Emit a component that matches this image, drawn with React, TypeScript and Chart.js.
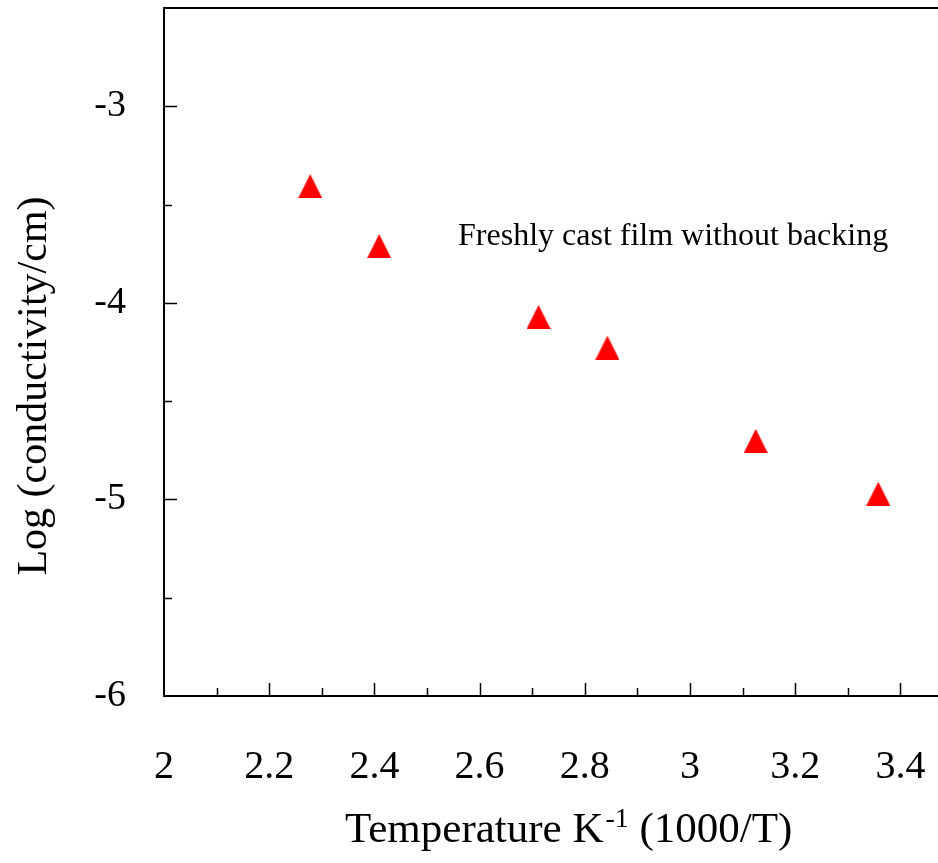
import { useEffect, useRef } from 'react';
import { Chart, registerables } from 'chart.js';
Chart.register(...registerables);

const X_VALUES = [2.278, 2.409, 2.712, 2.843, 3.125, 3.358];
const Y_VALUES = [-3.406, -3.711, -4.071, -4.228, -4.702, -4.971];
const X_TICKS = [2, 2.2, 2.4, 2.6, 2.8, 3, 3.2, 3.4];
const X_MINOR = [2.1, 2.3, 2.5, 2.7, 2.9, 3.1, 3.3];
const Y_TICKS = [-6, -5, -4, -3];
const Y_MINOR = [-5.5, -4.5, -3.5];
const X_MIN = 2;
const X_MAX = 3.4715;
const Y_MIN = -6;
const Y_MAX = -2.5;
const ANNOTATION = 'Freshly cast film without backing';
const ANN_X = 2.559;
const ANN_Y = -3.705;
const X_TITLE_MAIN = 'Temperature K';
const X_TITLE_SUP = '-1';
const X_TITLE_END = ' (1000/T)';
const Y_TITLE = 'Log (conductivity/cm)';

const FONT = '"Liberation Serif", "Times New Roman", serif';

function makeTriangle(): HTMLCanvasElement {
  const c = document.createElement('canvas');
  c.width = 24;
  c.height = 24;
  const g = c.getContext('2d')!;
  g.fillStyle = '#ff0000';
  g.beginPath();
  g.moveTo(0, 24);
  g.lineTo(12, 0);
  g.lineTo(24, 24);
  g.closePath();
  g.fill();
  return c;
}

const decor = {
  id: 'decor',
  afterDraw(chart: any) {
    const { ctx, chartArea } = chart;
    const xs = chart.scales.x;
    const ys = chart.scales.y;
    ctx.save();
    ctx.strokeStyle = '#000';
    // top frame line
    ctx.lineWidth = 2;
    ctx.beginPath();
    ctx.moveTo(chartArea.left - 1, chartArea.top);
    ctx.lineTo(chartArea.right, chartArea.top);
    ctx.stroke();
    // inward ticks
    ctx.lineWidth = 1.5;
    const b = chartArea.bottom;
    const l = chartArea.left;
    X_TICKS.forEach((v) => {
      if (v === X_MIN) return;
      const px = Math.round(xs.getPixelForValue(v)) + 0.5;
      ctx.beginPath();
      ctx.moveTo(px, b);
      ctx.lineTo(px, b - 13);
      ctx.stroke();
    });
    X_MINOR.forEach((v) => {
      const px = Math.round(xs.getPixelForValue(v)) + 0.5;
      ctx.beginPath();
      ctx.moveTo(px, b);
      ctx.lineTo(px, b - 8);
      ctx.stroke();
    });
    Y_TICKS.forEach((v) => {
      if (v === Y_MIN) return;
      const py = Math.round(ys.getPixelForValue(v)) + 0.5;
      ctx.beginPath();
      ctx.moveTo(l, py);
      ctx.lineTo(l + 13, py);
      ctx.stroke();
    });
    Y_MINOR.forEach((v) => {
      const py = Math.round(ys.getPixelForValue(v)) + 0.5;
      ctx.beginPath();
      ctx.moveTo(l, py);
      ctx.lineTo(l + 8, py);
      ctx.stroke();
    });
    ctx.fillStyle = '#000';
    // annotation
    ctx.font = `32px ${FONT}`;
    ctx.textAlign = 'left';
    ctx.textBaseline = 'alphabetic';
    ctx.fillText(ANNOTATION, xs.getPixelForValue(ANN_X), ys.getPixelForValue(ANN_Y));
    // x title with superscript
    const mainFont = `43px ${FONT}`;
    const supFont = `28px ${FONT}`;
    const baseY = 842;
    let x0 = 345;
    ctx.font = mainFont;
    ctx.fillText(X_TITLE_MAIN, x0, baseY);
    x0 += ctx.measureText(X_TITLE_MAIN).width + 2;
    ctx.font = supFont;
    ctx.fillText(X_TITLE_SUP, x0, baseY - 15);
    x0 += ctx.measureText(X_TITLE_SUP).width;
    ctx.font = mainFont;
    ctx.fillText(X_TITLE_END, x0, baseY);
    // y title
    ctx.translate(46, 386);
    ctx.rotate(-Math.PI / 2);
    ctx.textAlign = 'center';
    ctx.font = `42px ${FONT}`;
    ctx.fillText(Y_TITLE, 0, 0);
    ctx.restore();
  },
};

export default function App() {
  const ref = useRef<HTMLCanvasElement>(null);
  useEffect(() => {
    document.body.style.margin = '0';
    const tri = makeTriangle();
    const chart = new Chart(ref.current!, {
      type: 'scatter',
      data: {
        datasets: [
          {
            data: X_VALUES.map((x, i) => ({ x, y: Y_VALUES[i] })),
            pointStyle: tri as any,
            pointRadius: 12,
            pointBackgroundColor: '#ff0000',
            pointBorderWidth: 0,
          },
        ],
      },
      options: {
        animation: false,
        responsive: false,
        devicePixelRatio: 1,
        layout: { autoPadding: false, padding: { top: 8, right: 0, left: 0, bottom: 0 } },
        plugins: { legend: { display: false }, tooltip: { enabled: false } },
        scales: {
          x: {
            type: 'linear',
            min: X_MIN,
            max: X_MAX,
            grid: { display: false },
            border: { display: true, color: '#000', width: 2 },
            afterBuildTicks: (s: any) => {
              s.ticks = X_TICKS.map((v) => ({ value: v }));
            },
            afterFit: (s: any) => {
              s.height = 167;
              s.paddingLeft = 0;
              s.paddingRight = 0;
              s.paddingTop = 0;
              s.paddingBottom = 0;
            },
            ticks: {
              color: '#000',
              font: { family: FONT, size: 40 },
              padding: 39,
              maxRotation: 0,
              autoSkip: false,
              callback: (v: any) => String(Number(Number(v).toFixed(1))),
            },
          },
          y: {
            type: 'linear',
            min: Y_MIN,
            max: Y_MAX,
            grid: { display: false },
            border: { display: true, color: '#000', width: 2 },
            afterBuildTicks: (s: any) => {
              s.ticks = Y_TICKS.map((v) => ({ value: v }));
            },
            afterFit: (s: any) => {
              s.width = 164;
              s.paddingLeft = 0;
              s.paddingRight = 0;
              s.paddingTop = 0;
              s.paddingBottom = 0;
            },
            ticks: {
              color: '#000',
              font: { family: FONT, size: 38 },
              padding: 30,
              autoSkip: false,
              callback: (v: any) => String(v),
            },
          },
        },
      },
      plugins: [decor],
    });
    return () => chart.destroy();
  }, []);
  return (
    <div style={{ width: 938, height: 863, background: '#fff' }}>
      <canvas ref={ref} width={938} height={863} />
    </div>
  );
}
